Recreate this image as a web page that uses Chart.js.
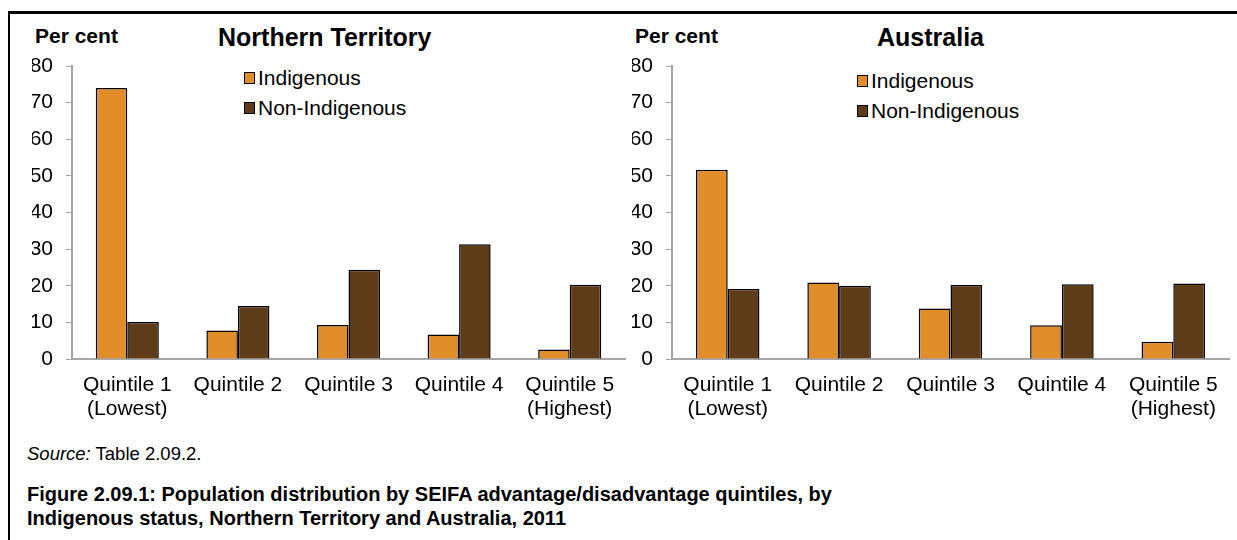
<!DOCTYPE html>
<html>
<head>
<meta charset="utf-8">
<script src="https://cdn.jsdelivr.net/npm/chart.js@4.4.1/dist/chart.umd.min.js"></script>
<style>
  html, body { margin: 0; padding: 0; background: #fff; }
  body { width: 1237px; height: 540px; position: relative; overflow: hidden;
         font-family: "Liberation Sans", Arial, sans-serif; color: #000; }
  .frame { position: absolute; left: 8px; top: 11px; width: 1240px; height: 540px;
           border-top: 3px solid #000; border-left: 2px solid #000; }
  canvas { position: absolute; top: 0; }
  .t { position: absolute; white-space: nowrap; line-height: 1; }
  .unit { font-weight: bold; font-size: 21px; }
  .title { font-weight: bold; font-size: 25px; }
  .legend { position: absolute; font-size: 21px; line-height: 30px; }
  .legend div { display: flex; align-items: center; }
  .legend span.sw { display: inline-block; width: 11px; height: 12px; border: 1px solid #000;
                    margin-right: 3px; box-sizing: border-box; }
  .src { font-size: 18.5px; }
  .cap { font-weight: bold; font-size: 20px; line-height: 24px; }
</style>
</head>
<body>
<div class="frame"></div>

<div class="t unit" style="left:35px; top:25px;">Per cent</div>
<div class="t title" style="left:218px; top:25px;">Northern Territory</div>
<div class="legend" style="left:244px; top:63px;">
  <div><span class="sw" style="background:#E18D29"></span>Indigenous</div>
  <div><span class="sw" style="background:#5E3C19"></span>Non-Indigenous</div>
</div>

<div class="t unit" style="left:635px; top:25px;">Per cent</div>
<div class="t title" style="left:877px; top:25px;">Australia</div>
<div class="legend" style="left:857px; top:66px;">
  <div><span class="sw" style="background:#E18D29"></span>Indigenous</div>
  <div><span class="sw" style="background:#5E3C19"></span>Non-Indigenous</div>
</div>

<canvas id="nt" width="630" height="430" style="left:0px;"></canvas>
<canvas id="au" width="637" height="430" style="left:600px;"></canvas>

<div class="t src" style="left:27px; top:445px;"><i>Source:</i> Table 2.09.2.</div>
<div class="t cap" style="left:27px; top:482px;">Figure 2.09.1: Population distribution by SEIFA advantage/disadvantage quintiles, by<br>Indigenous status, Northern Territory and Australia, 2011</div>

<script>
const QUINTILES = [["Quintile 1", "(Lowest)"], "Quintile 2", "Quintile 3", "Quintile 4", ["Quintile 5", "(Highest)"]];
const Y_TICKS = [0, 10, 20, 30, 40, 50, 60, 70, 80];

const NT_INDIGENOUS     = [74.0, 7.8, 9.3, 6.7, 2.6];
const NT_NON_INDIGENOUS = [10.1, 14.5, 24.4, 31.3, 20.3];
const AU_INDIGENOUS     = [51.7, 20.9, 13.8, 9.2, 4.7];
const AU_NON_INDIGENOUS = [19.1, 20.0, 20.2, 20.4, 20.6];

const ORANGE = "#E18D29";
const BROWN  = "#5E3C19";
const AXIS   = "#A6A6A6";
const FONT   = "'Liberation Sans', Arial, sans-serif";

function makeChart(id, indigenous, nonIndigenous, padRight) {
  return new Chart(document.getElementById(id), {
    type: "bar",
    data: {
      labels: QUINTILES,
      datasets: [
        { label: "Indigenous", data: indigenous, backgroundColor: ORANGE },
        { label: "Non-Indigenous", data: nonIndigenous, backgroundColor: BROWN },
      ],
    },
    options: {
      responsive: false,
      animation: false,
      datasets: {
        bar: { categoryPercentage: 0.57, barPercentage: 1.0, borderColor: "#000", borderWidth: 1.5 },
      },
      layout: { padding: { left: 32, right: padRight, top: 66, bottom: 6 } },
      plugins: { legend: { display: false }, tooltip: { enabled: false } },
      scales: {
        x: {
          grid: { display: false, drawTicks: false, tickLength: 0 },
          border: { display: true, color: AXIS, width: 2 },
          ticks: { color: "#000", font: { family: FONT, size: 21, lineHeight: 1.15 }, padding: 14, maxRotation: 0, autoSkip: false },
          afterFit: s => { s.height = 65; },
        },
        y: {
          min: 0, max: 80,
          afterBuildTicks: s => { s.ticks = Y_TICKS.map(v => ({ value: v })); },
          grid: { drawOnChartArea: false, color: AXIS, tickLength: 6 },
          border: { display: true, color: AXIS, width: 2 },
          ticks: { color: "#000", font: { family: FONT, size: 21 }, padding: 13 },
          afterFit: s => { s.width = 40; },
        },
      },
    },
  });
}

makeChart("nt", NT_INDIGENOUS, NT_NON_INDIGENOUS, 5);
makeChart("au", AU_INDIGENOUS, AU_NON_INDIGENOUS, 8);
</script>
</body>
</html>
